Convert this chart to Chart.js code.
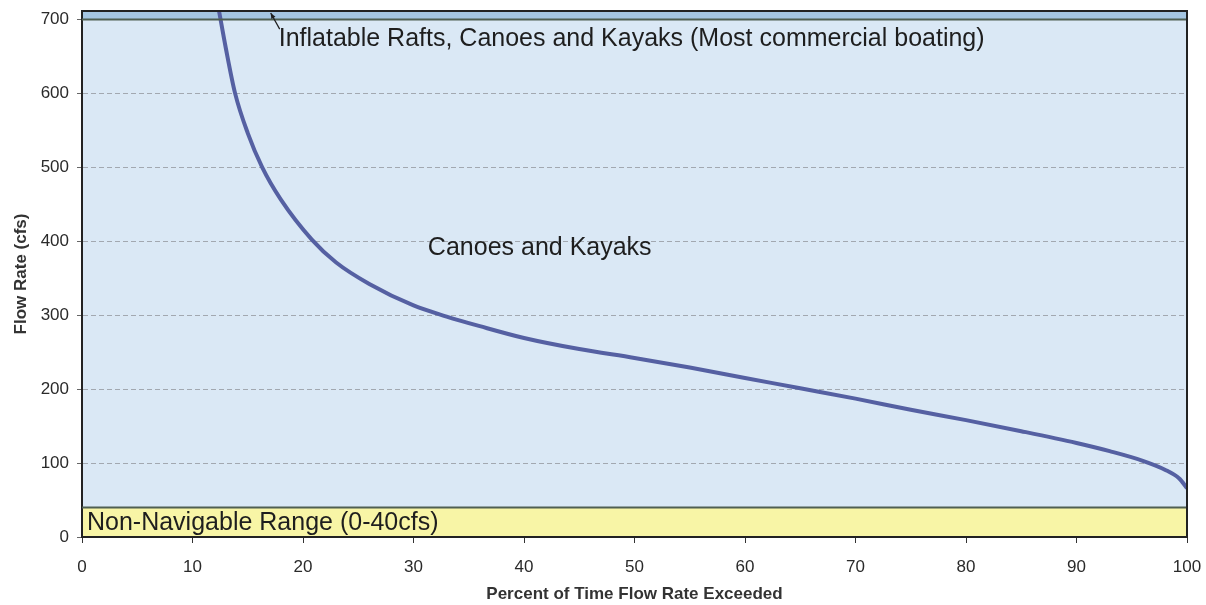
<!DOCTYPE html>
<html>
<head>
<meta charset="utf-8">
<title>Flow Duration</title>
<script src="https://cdn.jsdelivr.net/npm/chart.js@4.4.1/dist/chart.umd.min.js"></script>
<style>
    body { margin: 0; background: #ffffff; }
    #flowChart { display: block; }
</style>
</head>
<body>
<canvas id="flowChart" width="1206" height="605"></canvas>
<script>
// flow duration curve
const pctExceeded = [12.4, 13.0, 13.85, 15, 16.3, 18, 20.8, 23, 26, 30, 33, 36, 40, 45, 50, 55, 60, 65, 70, 75, 80, 85, 90, 93, 96, 98, 99.3, 100];
const flowCfs = [711, 662, 600, 546, 500, 456, 402, 371, 342, 313, 298, 285, 269, 254, 242, 229, 215, 201, 187, 172, 158, 143, 127, 116, 103, 91, 79, 66];

const xTicks = [0, 10, 20, 30, 40, 50, 60, 70, 80, 90, 100];
const yTicks = [0, 100, 200, 300, 400, 500, 600, 700];
const yMax = 711;

// shaded ranges: [from, to] in cfs
const nonNavigableRange = [0, 40];
const raftRange = [700, 711];

// annotation text and where it sits (percent, cfs)
const noteTexts = [
    'Inflatable Rafts, Canoes and Kayaks (Most commercial boating)',
    'Canoes and Kayaks',
    'Non-Navigable Range (0-40cfs)'
];
const noteX = [17.8, 31.3, 0.45];
const noteY = [673, 391, 19];

const bandsPlugin = {
    id: 'bands',
    beforeDraw(chart) {
        const { ctx, chartArea, scales } = chart;
        const y = scales.y;
        ctx.save();
        // main plot background
        ctx.fillStyle = '#dae8f5';
        ctx.fillRect(chartArea.left, chartArea.top, chartArea.width, chartArea.height);

        // top band (rafts)
        let top = y.getPixelForValue(raftRange[1]);
        let bot = y.getPixelForValue(raftRange[0]);
        ctx.fillStyle = '#a5c6e2';
        ctx.fillRect(chartArea.left, top, chartArea.width, bot - top);

        // bottom band (non navigable)
        top = y.getPixelForValue(nonNavigableRange[1]);
        bot = y.getPixelForValue(nonNavigableRange[0]);
        ctx.fillStyle = '#f8f5a6';
        ctx.fillRect(chartArea.left, top, chartArea.width, bot - top);
        ctx.restore();
    },
    afterDatasetsDraw(chart) {
        const { ctx, chartArea, scales } = chart;
        const x = scales.x, y = scales.y;
        ctx.save();
        // band borders
        ctx.strokeStyle = '#4f5f52';
        ctx.lineWidth = 2;
        [raftRange[0], nonNavigableRange[1]].forEach(v => {
            const py = Math.round(y.getPixelForValue(v)) + 0.5;
            ctx.beginPath();
            ctx.moveTo(chartArea.left, py);
            ctx.lineTo(chartArea.right, py);
            ctx.stroke();
        });
        // frame top and right
        ctx.strokeStyle = '#222222';
        ctx.lineWidth = 2;
        ctx.beginPath();
        ctx.moveTo(chartArea.left, chartArea.top);
        ctx.lineTo(chartArea.right, chartArea.top);
        ctx.lineTo(chartArea.right, chartArea.bottom);
        ctx.stroke();

        // notes
        ctx.fillStyle = '#1e1e1e';
        ctx.font = '25px "Liberation Sans", Arial, sans-serif';
        ctx.textBaseline = 'middle';
        ctx.textAlign = 'left';
        noteTexts.forEach((t, i) => {
            ctx.fillText(t, x.getPixelForValue(noteX[i]), y.getPixelForValue(noteY[i]));
        });

        // little arrow from first note up to the raft band
        const ax = x.getPixelForValue(noteX[0]) + 1;
        const ay = y.getPixelForValue(noteY[0]) - 10;
        const tx = ax - 9;
        const ty = y.getPixelForValue(raftRange[1]) + 2;
        ctx.strokeStyle = '#1e1e1e';
        ctx.lineWidth = 1.2;
        ctx.beginPath();
        ctx.moveTo(ax, ay);
        ctx.lineTo(tx, ty);
        ctx.stroke();
        const ang = Math.atan2(ty - ay, tx - ax);
        ctx.beginPath();
        ctx.moveTo(tx, ty);
        ctx.lineTo(tx - 6 * Math.cos(ang - 0.4), ty - 6 * Math.sin(ang - 0.4));
        ctx.lineTo(tx - 6 * Math.cos(ang + 0.4), ty - 6 * Math.sin(ang + 0.4));
        ctx.closePath();
        ctx.fillStyle = '#1e1e1e';
        ctx.fill();
        ctx.restore();
    }
};

function createFlowChart() {
    const ctx = document.getElementById('flowChart').getContext('2d');
    const points = pctExceeded.map((p, i) => ({ x: p, y: flowCfs[i] }));

    new Chart(ctx, {
        type: 'line',
        data: {
            datasets: [{
                label: 'Flow Rate',
                data: points,
                borderColor: '#5560a2',
                borderWidth: 4,
                pointRadius: 0,
                fill: false,
                cubicInterpolationMode: 'monotone'
            }]
        },
        options: {
            responsive: false,
            animation: false,
            layout: {
                padding: { top: 11, right: 19, bottom: 0, left: 0 }
            },
            plugins: {
                legend: { display: false },
                tooltip: { enabled: false }
            },
            scales: {
                x: {
                    type: 'linear',
                    min: 0,
                    max: 100,
                    afterBuildTicks: axis => {
                        axis.ticks = xTicks.map(v => ({ value: v }));
                    },
                    afterFit: axis => {
                        axis.height = 68;
                        axis.paddingLeft = 0;
                        axis.paddingRight = 0;
                    },
                    ticks: {
                        color: '#2a2a2a',
                        padding: 14,
                        maxRotation: 0,
                        font: { family: '"Liberation Sans", Arial, sans-serif', size: 17 }
                    },
                    grid: {
                        drawOnChartArea: false,
                        tickLength: 6,
                        tickColor: '#333333'
                    },
                    border: { color: '#222222', width: 2 },
                    title: {
                        display: true,
                        text: 'Percent of Time Flow Rate Exceeded',
                        color: '#333333',
                        padding: { top: 0, bottom: 0 },
                        font: { family: '"Liberation Sans", Arial, sans-serif', size: 17, weight: 'bold' }
                    }
                },
                y: {
                    min: 0,
                    max: yMax,
                    afterBuildTicks: axis => {
                        axis.ticks = yTicks.map(v => ({ value: v }));
                    },
                    afterFit: axis => {
                        axis.width = 82;
                        axis.paddingTop = 0;
                        axis.paddingBottom = 0;
                    },
                    ticks: {
                        color: '#2a2a2a',
                        padding: 8,
                        font: { family: '"Liberation Sans", Arial, sans-serif', size: 17 }
                    },
                    grid: {
                        color: '#a2a8b0',
                        lineWidth: 1,
                        tickLength: 5,
                        tickColor: '#666666',
                        tickBorderDash: []
                    },
                    border: { color: '#222222', width: 2, dash: [5, 3] },
                    title: {
                        display: true,
                        text: 'Flow Rate (cfs)',
                        color: '#333333',
                        padding: { top: 11, bottom: 0 },
                        font: { family: '"Liberation Sans", Arial, sans-serif', size: 17, weight: 'bold' }
                    }
                }
            }
        },
        plugins: [bandsPlugin]
    });
}

createFlowChart();
</script>
</body>
</html>
